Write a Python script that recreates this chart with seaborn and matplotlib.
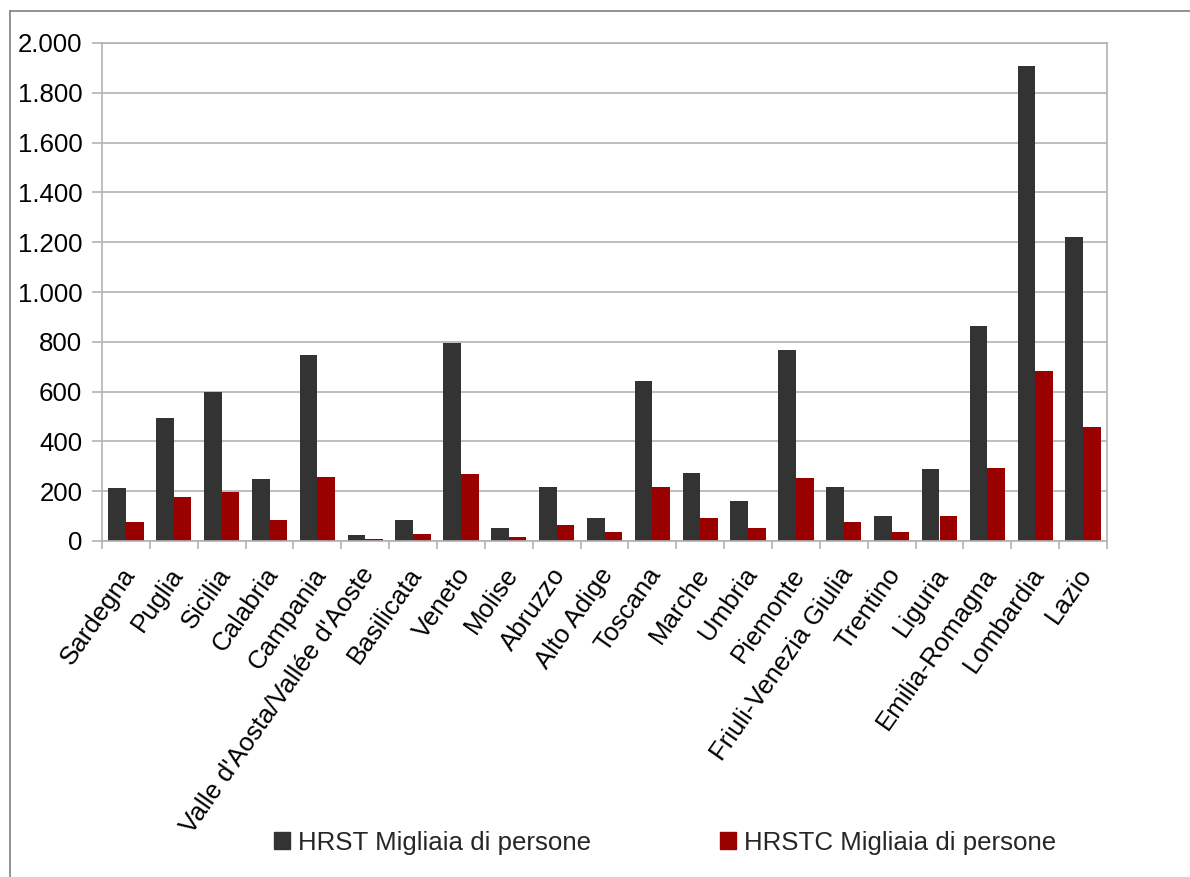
import matplotlib
matplotlib.use("Agg")
import matplotlib.pyplot as plt
from matplotlib.ticker import FuncFormatter, FixedLocator
from matplotlib.lines import Line2D
from matplotlib.transforms import ScaledTranslation
import seaborn as sns
import pandas as pd

regioni = ["Sardegna", "Puglia", "Sicilia", "Calabria", "Campania",
           "Valle d'Aosta/Vallée d'Aoste", "Basilicata", "Veneto", "Molise",
           "Abruzzo", "Alto Adige", "Toscana", "Marche", "Umbria", "Piemonte",
           "Friuli-Venezia Giulia", "Trentino", "Liguria", "Emilia-Romagna",
           "Lombardia", "Lazio"]
hrst = [213, 494, 598, 249, 747, 24, 84, 795, 52, 217, 92, 642, 273, 161,
        767, 217, 100, 289, 863, 1908, 1221]
hrstc = [76, 177, 197, 84, 257, 8, 28, 269, 16, 64, 36, 217, 92, 52, 253,
         76, 36, 100, 293, 683, 458]
serie = ["HRST Migliaia di persone", "HRSTC Migliaia di persone"]
colori = ["#333333", "#990000"]

df = pd.DataFrame({
    "regione": regioni * 2,
    "valore": hrst + hrstc,
    "serie": [serie[0]] * len(regioni) + [serie[1]] * len(regioni),
})

sns.set_theme(style="white")
plt.rcParams["font.family"] = ["Liberation Sans", "DejaVu Sans"]
fs = 18.6

fig = plt.figure(figsize=(11.9, 8.77), dpi=100)
ax = fig.add_axes([102 / 1190, 1 - 541 / 877, (1107 - 102) / 1190, (541 - 43) / 877])

sns.barplot(data=df, x="regione", y="valore", hue="serie", order=regioni,
            hue_order=serie, palette=colori, width=0.74, gap=0,
            saturation=1, edgecolor="none", linewidth=0, ax=ax, legend=True)

grid = "#b3b3b3"
ax.set_ylim(0, 2000)
ax.set_xlim(-0.5, len(regioni) - 0.5)
ax.set_yticks(range(0, 2001, 200))
ax.yaxis.set_major_formatter(FuncFormatter(lambda v, p: f"{int(v):,}".replace(",", ".")))
ax.yaxis.grid(True, color=grid, linewidth=1.2)
ax.xaxis.grid(False)
ax.set_axisbelow(True)
for s in ax.spines.values():
    s.set_color(grid)
    s.set_linewidth(1.2)

ax.tick_params(axis="y", which="major", direction="out", length=7.2, width=1.2,
               color=grid, pad=7, labelsize=fs, labelcolor="black", left=True)
ax.xaxis.set_minor_locator(FixedLocator([k - 0.5 for k in range(len(regioni) + 1)]))
ax.tick_params(axis="x", which="minor", direction="out", length=6, width=1.2,
               color=grid, bottom=True)
ax.tick_params(axis="x", which="major", length=0, pad=8, labelsize=fs,
               labelcolor="black")
ax.set_xticks(range(len(regioni)))
ax.set_xticklabels(regioni, rotation=55, ha="right", va="center",
                   rotation_mode="anchor")
shift = ScaledTranslation(4 / 100, -18 / 100, fig.dpi_scale_trans)
for lbl in ax.get_xticklabels():
    lbl.set_transform(lbl.get_transform() + shift)
ax.set_xlabel("")
ax.set_ylabel("")

ax.get_legend().remove()
handles = [plt.Rectangle((0, 0), 1, 1, color=c) for c in colori]
fig.legend(handles, serie, loc="center", bbox_to_anchor=(0.559, 0.039),
           ncol=2, frameon=False, fontsize=fs, handlelength=0.6,
           handleheight=0.6, handletextpad=0.32, columnspacing=5.0)

# outer frame of the chart
bc = "#808080"
x0, y1 = 10 / 1190, 1 - 11 / 877
fig.add_artist(Line2D([x0, x0], [0, y1], color=bc, linewidth=1.2,
                      transform=fig.transFigure))
fig.add_artist(Line2D([x0, 1], [y1, y1], color=bc, linewidth=1.2,
                      transform=fig.transFigure))

fig.savefig("out.png", dpi=100)
